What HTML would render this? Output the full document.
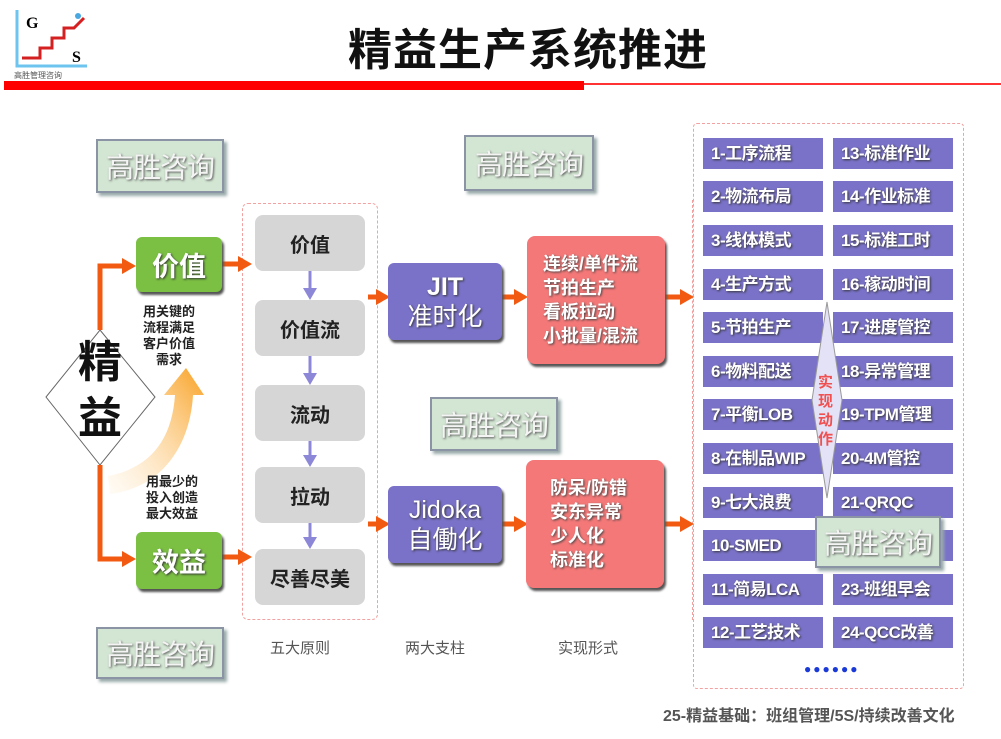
<!DOCTYPE html>
<html><head><meta charset="utf-8"><style>
*{margin:0;padding:0;box-sizing:border-box}
body{width:1001px;height:739px;background:#fff;position:relative;overflow:hidden;font-family:"Liberation Sans","Noto Sans CJK SC",sans-serif;font-weight:bold}
.a{position:absolute}
.wm{position:absolute;background:#d3e5d3;border:2px solid #8a94a4;box-shadow:3px 3px 3px #9aa;color:#f4f4f4;font-size:28px;font-weight:normal;display:flex;align-items:center;justify-content:center;text-shadow:1px 1px 2px #555;letter-spacing:-1px}
.gb{position:absolute;background:#7bc043;border-radius:6px;box-shadow:2px 3px 2px #555;color:#fff;font-size:27px;display:flex;align-items:center;justify-content:center;text-shadow:1px 1px 2px #333}
.gr{position:absolute;left:255px;width:110px;height:56px;background:#d6d6d6;border-radius:8px;color:#222;font-size:20px;display:flex;align-items:center;justify-content:center}
.pb{position:absolute;left:388px;width:114px;height:77px;background:#7a72c8;border-radius:6px;box-shadow:2px 3px 2px #555;color:#fff;font-size:25px;font-weight:normal;line-height:30px;display:flex;flex-direction:column;align-items:center;justify-content:center;text-shadow:1px 1px 2px #333}
.rb{position:absolute;width:138px;height:128px;background:#f47878;border-radius:8px;box-shadow:2px 3px 2px #555;color:#fff;font-size:18px;line-height:24px;padding-left:16px;display:flex;flex-direction:column;justify-content:center;text-shadow:1px 1px 2px #444}
.li{position:absolute;width:120px;height:31px;background:#7a72c8;color:#fff;font-size:17px;line-height:31px;padding-left:8px;text-shadow:1px 1px 2px #333;white-space:nowrap;letter-spacing:-0.5px}
.sm{position:absolute;font-size:13px;color:#222;line-height:16px;text-align:center}
.lb{position:absolute;top:637px;font-size:15px;color:#555;font-weight:normal}
</style></head><body>
<!-- logo -->
<svg class="a" style="left:12px;top:8px" width="80" height="72">
<path d="M5 2 V58 H75" stroke="#6cc4ef" stroke-width="3" fill="none"/>
<path d="M10 50 H28 V40 H40 V30 H52 V20 H62 L72 10" stroke="#d42020" stroke-width="3" fill="none"/>
<circle cx="66" cy="8" r="3" fill="#4aa8e0"/>
<text x="14" y="20" font-size="16" font-weight="bold" font-family="Liberation Serif">G</text>
<text x="60" y="54" font-size="16" font-weight="bold" font-family="Liberation Serif">S</text>
<text x="2" y="70" font-size="8" fill="#555" font-weight="normal">高胜管理咨询</text>
</svg>
<div class="a" style="left:348px;top:14px;font-size:44px;color:#111;letter-spacing:1px;white-space:nowrap">精益生产系统推进</div>
<div class="a" style="left:4px;top:81px;width:580px;height:9px;background:#f00"></div>
<div class="a" style="left:584px;top:83px;width:417px;height:2px;background:#f33"></div>

<!-- containers -->
<div class="a" style="left:242px;top:203px;width:136px;height:417px;border:1px dashed #f2a0a0;border-radius:6px"></div>
<div class="a" style="left:378px;top:200px;width:315px;height:420px;border-right:1px dashed #f2a0a0"></div>
<div class="a" style="left:693px;top:123px;width:271px;height:566px;border:1px dashed #f2a0a0;border-radius:4px"></div>

<svg class="a" style="left:0;top:0" width="1001" height="739">
<defs><linearGradient id="og" x1="0" y1="1" x2="1" y2="0"><stop offset="0" stop-color="#fff3e0" stop-opacity="0.3"/><stop offset="1" stop-color="#f9a020"/></linearGradient></defs>
<path d="M108 476 C150 468 172 440 175 395 L164 395 L186 368 L204 395 L193 395 C190 448 160 488 110 494 Z" fill="url(#og)"/>
<polygon points="100,330 155,397 100,465 46,397" fill="#fff" stroke="#666" stroke-width="1"/>
<g stroke="#f25a12" stroke-width="5" fill="none">
<path d="M100 330 V266 H124"/><path d="M100 465 V559 H124"/>
<path d="M222 264 H240"/><path d="M222 557 H240"/>
<path d="M368 297 H378"/><path d="M502 297 H516"/><path d="M665 297 H682"/>
<path d="M368 524 H378"/><path d="M502 524 H516"/><path d="M665 524 H682"/>
</g>
<g fill="#f25a12">
<polygon points="122,258 136,266 122,274"/><polygon points="122,551 136,559 122,567"/>
<polygon points="238,256 252,264 238,272"/><polygon points="238,549 252,557 238,565"/>
<polygon points="376,289 390,297 376,305"/><polygon points="514,289 528,297 514,305"/><polygon points="680,289 694,297 680,305"/>
<polygon points="376,516 390,524 376,532"/><polygon points="514,516 528,524 514,532"/><polygon points="680,516 694,524 680,532"/>
</g>
<g stroke="#8d87d8" stroke-width="3"><path d="M310 270 V290"/><path d="M310 355 V375"/><path d="M310 440 V457"/><path d="M310 523 V539"/></g>
<g fill="#8d87d8"><polygon points="303,288 317,288 310,300"/><polygon points="303,373 317,373 310,385"/><polygon points="303,455 317,455 310,467"/><polygon points="303,537 317,537 310,549"/></g>
</svg>
<div class="a" style="left:70px;top:335px;font-size:44px;color:#111;line-height:56px;width:60px;text-align:center">精<br>益</div>

<div class="gb" style="left:136px;top:237px;width:86px;height:55px">价值</div>
<div class="gb" style="left:136px;top:532px;width:86px;height:57px">效益</div>
<div class="sm" style="left:137px;top:304px;width:64px">用关键的<br>流程满足<br>客户价值<br>需求</div>
<div class="sm" style="left:140px;top:474px;width:64px">用最少的<br>投入创造<br>最大效益</div>

<div class="gr" style="top:215px">价值</div>
<div class="gr" style="top:300px">价值流</div>
<div class="gr" style="top:385px">流动</div>
<div class="gr" style="top:467px">拉动</div>
<div class="gr" style="top:549px">尽善尽美</div>

<div class="pb" style="top:263px"><span style="font-weight:bold">JIT</span><span>准时化</span></div>
<div class="pb" style="top:486px"><span>Jidoka</span><span>自働化</span></div>
<div class="rb" style="left:527px;top:236px">连续/单件流<br>节拍生产<br>看板拉动<br>小批量/混流</div>
<div class="rb" style="left:526px;top:460px;padding-left:24px">防呆/防错<br>安东异常<br>少人化<br>标准化</div>

<div class="lb" style="left:270px">五大原则</div>
<div class="lb" style="left:405px">两大支柱</div>
<div class="lb" style="left:558px">实现形式</div>

<div class="li" style="left:703px;top:138px">1-工序流程</div>
<div class="li" style="left:703px;top:181px">2-物流布局</div>
<div class="li" style="left:703px;top:225px">3-线体模式</div>
<div class="li" style="left:703px;top:269px">4-生产方式</div>
<div class="li" style="left:703px;top:312px">5-节拍生产</div>
<div class="li" style="left:703px;top:356px">6-物料配送</div>
<div class="li" style="left:703px;top:399px">7-平衡LOB</div>
<div class="li" style="left:703px;top:443px">8-在制品WIP</div>
<div class="li" style="left:703px;top:487px">9-七大浪费</div>
<div class="li" style="left:703px;top:530px">10-SMED</div>
<div class="li" style="left:703px;top:574px">11-简易LCA</div>
<div class="li" style="left:703px;top:617px">12-工艺技术</div>
<div class="li" style="left:833px;top:138px">13-标准作业</div>
<div class="li" style="left:833px;top:181px">14-作业标准</div>
<div class="li" style="left:833px;top:225px">15-标准工时</div>
<div class="li" style="left:833px;top:269px">16-稼动时间</div>
<div class="li" style="left:833px;top:312px">17-进度管控</div>
<div class="li" style="left:833px;top:356px">18-异常管理</div>
<div class="li" style="left:833px;top:399px">19-TPM管理</div>
<div class="li" style="left:833px;top:443px">20-4M管控</div>
<div class="li" style="left:833px;top:487px">21-QRQC</div>
<div class="li" style="left:833px;top:530px">22-防错管理</div>
<div class="li" style="left:833px;top:574px">23-班组早会</div>
<div class="li" style="left:833px;top:617px">24-QCC改善</div>

<svg class="a" style="left:810px;top:300px" width="34" height="200"><polygon points="17,2 32,100 17,198 2,100" fill="#e4e2f6" stroke="#999" stroke-width="1"/></svg>
<div class="a" style="left:818px;top:373px;width:18px;font-size:15px;line-height:19px;color:#f05050">实现动作</div>

<div class="wm" style="left:96px;top:139px;width:128px;height:54px">高胜咨询</div>
<div class="wm" style="left:464px;top:135px;width:130px;height:56px">高胜咨询</div>
<div class="wm" style="left:430px;top:397px;width:128px;height:54px">高胜咨询</div>
<div class="wm" style="left:96px;top:627px;width:128px;height:52px">高胜咨询</div>
<div class="wm" style="left:815px;top:516px;width:126px;height:52px">高胜咨询</div>

<div class="a" style="left:804px;top:662px;font-size:12px;color:#1a3ad8;letter-spacing:2px">●●●●●●</div>
<div class="a" style="left:663px;top:702px;font-size:16px;color:#555;white-space:nowrap">25-精益基础：班组管理/5S/持续改善文化</div>
</body></html>
